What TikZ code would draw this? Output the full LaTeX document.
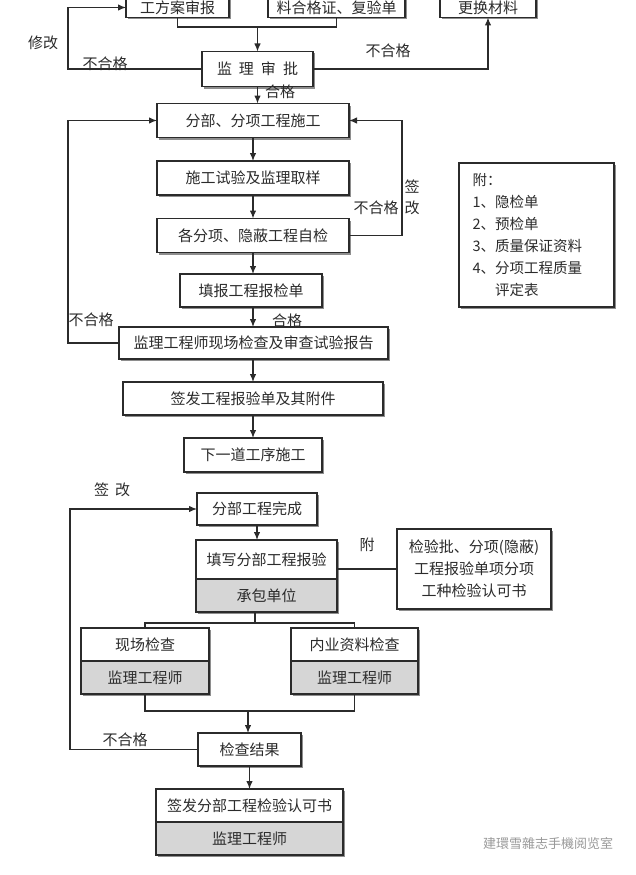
\documentclass[tikz,border=0pt]{standalone}
\usepackage{fontspec}
\usepackage{tikz}
\usetikzlibrary{arrows.meta,positioning,shadows}
\newfontfamily\cjk{Noto Sans CJK SC}
\definecolor{FlowInk}{HTML}{2B2B2B}
\definecolor{FlowGray}{HTML}{D6D6D6}
\definecolor{FlowShade}{HTML}{8E8E8E}
\tikzset{
  flowbox/.style={draw=FlowInk,line width=1.2pt,fill=white,inner sep=0pt,outer sep=0pt,minimum height=34pt,font=\cjk\fontsize{15}{18}\selectfont,text=FlowInk,drop shadow={shadow xshift=2pt,shadow yshift=-2pt,fill=FlowShade,opacity=1}},
  rolebox/.style={flowbox,fill=FlowGray},
  flowarrow/.style={-{Latex[length=8pt,width=6.5pt]},line width=1.2pt,draw=FlowInk},
  flowline/.style={line width=1.2pt,draw=FlowInk},
  flowlabel/.style={font=\cjk\fontsize{15}{18}\selectfont,text=FlowInk,inner sep=0pt}
}

\begin{document}
\begin{tikzpicture}[x=1pt,y=-1pt]
\useasboundingbox (0,0) rectangle (636,875);
\fill[white] (0,0) rectangle (636,875);

% top row, cut by the frame
\node[flowbox,minimum width=103pt,minimum height=20pt] (plan) at (177.5,7.5) {工方案审报};
\node[flowbox,minimum width=137pt,minimum height=20pt] (cert) at (336.5,7.5) {料合格证、复验单};
\node[flowbox,minimum width=96pt,minimum height=20pt] (swap) at (488,7.5) {更换材料};
\coordinate (join) at (257.5,27);
\node[flowbox,minimum width=111pt,minimum height=35pt] (approve) at (257.5,69) {监\hspace{7pt}理\hspace{7pt}审\hspace{7pt}批};
\draw[flowline] (plan.south) |- (join) -| (cert.south);
\draw[flowarrow] (join) -- (approve.north);
\draw[flowarrow] (approve.west) -- ++(-134,0) |- (plan.west);
\draw[flowarrow] (approve.east) -| (swap.south);
\node[flowlabel] (lblRevise) at (43,43) {修改};
\node[flowlabel] (lblFailA) at (105,64) {不合格};
\node[flowlabel] (lblFailB) at (388,51) {不合格};
\node[flowlabel] (lblPassA) at (280,92) {合格};

% main column
\node[flowbox,minimum width=192pt] (sub) at (253,120.5) {分部、分项工程施工};
\node[flowbox,minimum width=192pt] (trial) at (253,178) {施工试验及监理取样};
\node[flowbox,minimum width=192pt] (selfchk) at (253,235.5) {各分项、隐蔽工程自检};
\node[flowbox,minimum width=142pt,minimum height=33pt] (fill) at (251,290.5) {填报工程报检单};
\node[flowbox,minimum width=269pt,minimum height=32pt] (inspect) at (253.5,343) {监理工程师现场检查及审查试验报告};
\node[flowbox,minimum width=260pt,minimum height=33pt] (issue) at (253,398.5) {签发工程报验单及其附件};
\node[flowbox,minimum width=138pt] (next) at (253,455) {下一道工序施工};
\draw[flowarrow] (approve.south) -- (approve.south |- sub.north);
\draw[flowarrow] (sub.south) -- (trial.north);
\draw[flowarrow] (trial.south) -- (selfchk.north);
\draw[flowarrow] (selfchk.south) -- (selfchk.south |- fill.north);
\draw[flowarrow] (selfchk.south |- fill.south) -- (selfchk.south |- inspect.north);
\draw[flowarrow] (inspect.south -| issue.north) -- (issue.north);
\draw[flowarrow] (issue.south) -- (next.north);
\draw[flowarrow] (selfchk.east) -- ++(53,0) |- (sub.east);
\draw[flowarrow] (inspect.west) -- ++(-51,0) |- (sub.west);
\node[flowlabel] (lblFailC) at (376,208) {不合格};
\node[flowlabel] (lblSign) at (412,187) {签};
\node[flowlabel] (lblAmend) at (412,208) {改};
\node[flowlabel] (lblPassB) at (287,321) {合格};
\node[flowlabel] (lblFailD) at (91,320) {不合格};

% attachment note
\node[flowbox,minimum width=155pt,minimum height=144pt,text width=128pt,align=left,font=\cjk\fontsize{14.5}{22}\selectfont] (note) at (536.5,235) {附：\\1、隐检单\\2、预检单\\3、质量保证资料\\4、分项工程质量\\\phantom{4、}评定表};

% sub-project acceptance
\node[flowbox,minimum width=120pt,minimum height=32pt] (done) at (257,509) {分部工程完成};
\node[flowbox,minimum width=141pt,minimum height=39pt] (report) at (266.5,559.5) {填写分部工程报验};
\node[rolebox,minimum width=141pt,minimum height=33pt,below=0pt of report] (contractor) {承包单位};
\node[flowbox,minimum width=154pt,minimum height=80pt,align=center,font=\cjk\fontsize{15}{22}\selectfont] (attach) at (474,569) {检验批、分项(隐蔽)\\工程报验单项分项\\工种检验认可书};
\draw[flowarrow] (done.south) -- (done.south |- report.north);
\draw[flowline] (attach.west) -- (attach.west -| report.east);
\node[flowlabel] (lblAttach) at (367,545) {附};

\node[flowbox,minimum width=128pt,minimum height=33pt] (site) at (145,644.5) {现场检查};
\node[rolebox,minimum width=128pt,minimum height=33pt,below=0pt of site] (siteRole) {监理工程师};
\node[flowbox,minimum width=127pt,minimum height=33pt] (docs) at (354.5,644.5) {内业资料检查};
\node[rolebox,minimum width=127pt,minimum height=33pt,below=0pt of docs] (docsRole) {监理工程师};
\coordinate (split) at (255,623);
\coordinate (merge) at (248,711);
\draw[flowline] (split |- contractor.south) -- (split);
\draw[flowline] (site.north) |- (split) -| (docs.north);
\draw[flowline] (siteRole.south) |- (merge) -| (docsRole.south);

\node[flowbox,minimum width=103pt,minimum height=33pt] (result) at (249.5,749.5) {检查结果};
\draw[flowarrow] (merge) -- (merge |- result.north);
\draw[flowarrow] (result.west) -- ++(-128,0) |- (done.west);
\node[flowlabel] (lblFailE) at (125,740) {不合格};
\node[flowlabel] (lblSignB) at (112,490) {签\hspace{6pt}改};

\node[flowbox,minimum width=187pt,minimum height=33pt] (permit) at (249.5,805.5) {签发分部工程检验认可书};
\node[rolebox,minimum width=187pt,minimum height=33pt,below=0pt of permit] (permitRole) {监理工程师};
\draw[flowarrow] (result.south) -- (result.south |- permit.north);

\node[font=\cjk\fontsize{13}{15}\selectfont,text=black!40] (mark) at (548,843) {建環雪雜志手機阅览室};
\end{tikzpicture}
\end{document}
